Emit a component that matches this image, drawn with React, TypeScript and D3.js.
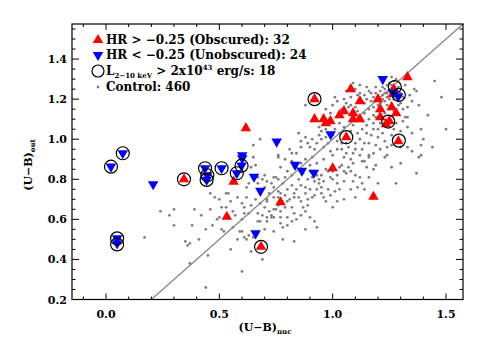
import React from 'react';
import * as d3 from 'd3';

const W = 485;
const H = 346;
const plot = { left: 72, right: 463, top: 24, bottom: 299.5 };

const xMajorTicks = [0, 0.5, 1.0, 1.5];
const yMajorTicks = [0.2, 0.4, 0.6, 0.8, 1.0, 1.2, 1.4];

// HR > -0.25 (obscured)
const obscured: [number, number][] = [
  [0.92, 1.2], [1.08, 1.25], [1.12, 1.19], [1.33, 1.31], [1.27, 1.25], [1.05, 1.14],
  [1.09, 1.13], [0.92, 1.1], [0.96, 1.1], [0.99, 1.09], [0.97, 1.08], [1.09, 1.1],
  [1.12, 1.1], [1.21, 1.15], [1.21, 1.11], [1.26, 1.16], [1.28, 1.13], [1.25, 1.09],
  [1.06, 1.01], [1.29, 0.99], [1.0, 0.855], [0.77, 0.685], [1.18, 0.713], [0.684, 0.463],
  [0.344, 0.8], [0.563, 0.788], [0.533, 0.613], [0.617, 1.055], [1.265, 1.225],
  [1.235, 1.075], [1.2, 1.2], [1.03, 1.12],
];

// HR < -0.25 (unobscured)
const unobscured: [number, number][] = [
  [0.022, 0.863], [0.074, 0.93], [0.208, 0.775], [0.437, 0.855], [0.447, 0.82], [0.444, 0.797],
  [0.51, 0.855], [0.577, 0.83], [0.598, 0.868], [0.601, 0.92], [0.601, 0.905], [0.653, 0.813],
  [0.681, 0.742], [0.753, 0.988], [0.049, 0.505], [0.049, 0.48], [0.66, 0.53], [0.834, 0.872],
  [0.864, 0.843], [0.917, 0.833], [1.221, 1.3], [0.991, 1.025], [1.267, 1.233], [1.289, 1.213],
];

// L(2-10 keV) > 2x10^43 erg/s
const luminous: [number, number][] = [
  [0.92, 1.2], [1.245, 1.088], [1.06, 1.01], [1.292, 0.993], [0.684, 0.463], [0.344, 0.8],
  [1.274, 1.26], [1.292, 1.221], [0.022, 0.863], [0.074, 0.93], [0.437, 0.855], [0.447, 0.82],
  [0.444, 0.797], [0.51, 0.855], [0.577, 0.83], [0.598, 0.868], [0.049, 0.505], [0.049, 0.475],
];

const control: [number, number][] = [
  [0.24, 0.64], [0.30, 0.65], [0.39, 0.65], [0.46, 0.65], [0.42, 0.62], [0.49, 0.60], [0.50, 0.61],
  [0.51, 0.66], [0.53, 0.73], [0.54, 0.73], [0.48, 0.71], [0.46, 0.73], [0.30, 0.57], [0.44, 0.55],
  [0.41, 0.50], [0.35, 0.49], [0.36, 0.47], [0.37, 0.48], [0.17, 0.51], [0.37, 0.38], [0.45, 0.42],
  [0.60, 0.34], [0.44, 0.26], [0.51, 0.55], [0.52, 0.54], [0.56, 0.56], [0.59, 0.54], [0.60, 0.54],
  [0.58, 0.50], [0.61, 0.51], [0.63, 0.52], [0.62, 0.50], [0.65, 0.51], [0.61, 0.63], [0.61, 0.66],
  [0.60, 0.60], [0.60, 0.68], [0.58, 0.71], [0.62, 0.71], [0.63, 0.63], [0.63, 0.78], [0.67, 0.78],
  [0.67, 0.63], [0.68, 0.68], [0.69, 0.62], [0.71, 0.59], [0.71, 0.61], [0.74, 0.61], [0.75, 0.65],
  [0.76, 0.67], [0.73, 0.62], [0.74, 0.54], [0.77, 0.58], [0.68, 0.59], [0.67, 0.59], [0.71, 0.69],
  [0.71, 0.70], [0.74, 0.71], [0.73, 0.78], [0.75, 0.81], [0.76, 0.80], [0.69, 0.80], [0.70, 0.82],
  [0.71, 0.79], [0.66, 0.87], [0.64, 0.86], [0.65, 0.91], [0.67, 0.81],
  [0.65, 0.97], [0.68, 1.00], [0.76, 0.91], [0.62, 0.76],
  [0.76, 0.92], [0.82, 0.93], [0.77, 0.86], [0.74, 0.81], [0.79, 0.81], [0.82, 0.82], [0.86, 0.77],
  [0.88, 0.76], [0.89, 0.80], [0.92, 0.79], [0.94, 0.80], [0.94, 0.78], [0.91, 0.81], [0.95, 0.82],
  [0.98, 0.84], [0.99, 0.81], [1.00, 0.80], [1.02, 0.82], [1.02, 0.78], [1.03, 0.75], [0.98, 0.75],
  [0.95, 0.73], [0.97, 0.69], [1.02, 0.69], [1.00, 0.66], [1.04, 0.87], [1.07, 0.86], [1.06, 0.83],
  [1.08, 0.84], [1.10, 0.82], [1.12, 0.81], [1.13, 0.78], [1.16, 0.81], [1.15, 0.86], [1.13, 0.89],
  [1.09, 0.88], [1.16, 0.91], [1.19, 0.87], [1.23, 0.91], [1.24, 0.92], [1.35, 0.94], [1.39, 0.92],
  [1.37, 0.83], [1.08, 0.75], [1.14, 0.75], [0.83, 0.71], [0.85, 0.71], [0.86, 0.69], [0.89, 0.70],
  [0.89, 0.67], [0.87, 0.66], [0.80, 0.69], [0.79, 0.66], [0.82, 0.66], [0.83, 0.63], [0.80, 0.61],
  [0.82, 0.59], [0.77, 0.61], [0.74, 0.65], [0.77, 0.64], [0.73, 0.61], [0.78, 0.56], [0.80, 0.57],
  [0.83, 0.49], [0.92, 0.59], [0.93, 0.56], [0.74, 0.76], [0.70, 0.76], [0.77, 0.73], [0.76, 0.71],
  [0.79, 0.72], [0.83, 0.73], [0.84, 0.75], [0.91, 0.71], [0.93, 0.75], [0.95, 0.76], [1.05, 0.79],
  [1.09, 0.79], [1.11, 0.76], [1.18, 0.85], [1.20, 0.78],
  [1.45, 1.29], [1.48, 1.21], [1.50, 1.05], [1.38, 1.17], [1.37, 1.24], [1.36, 1.25], [1.32, 1.11],
  [1.33, 1.11], [1.33, 1.06], [1.35, 1.03], [1.39, 1.05], [1.39, 0.97], [1.38, 0.91], [1.33, 0.96],
  [1.30, 0.96], [1.26, 0.97], [1.24, 0.96], [1.19, 0.97], [1.20, 1.01], [1.16, 0.98], [1.18, 1.05],
  [1.15, 1.03], [1.13, 1.09], [1.16, 1.15], [1.18, 1.16], [1.19, 1.19], [1.20, 1.21], [1.22, 1.22],
  [1.22, 1.20], [1.23, 1.23], [1.24, 1.21], [1.25, 1.24], [1.25, 1.20], [1.24, 1.17], [1.17, 1.23],
  [1.14, 1.22], [1.15, 1.20], [1.13, 1.19], [1.11, 1.22], [1.09, 1.28], [1.08, 1.17], [1.07, 1.16],
  [1.01, 1.21], [0.97, 1.15], [1.02, 1.11], [1.03, 1.08], [1.01, 1.05], [0.97, 1.05], [0.94, 1.02],
  [0.91, 1.00], [0.89, 0.98], [0.86, 0.96], [0.84, 0.93], [0.85, 1.03], [0.88, 1.17], [0.94, 1.06],
  [0.95, 1.00], [0.96, 0.96], [0.99, 0.94], [1.04, 0.95], [1.07, 0.96], [1.09, 0.93], [1.12, 1.00],
  [1.13, 0.95], [1.16, 0.92], [1.05, 0.91], [0.92, 0.95], [0.91, 0.91], [1.19, 1.11], [1.30, 1.18],
  [1.22, 1.26], [1.24, 1.27], [1.25, 1.28], [1.26, 1.31], [1.27, 1.29],
  // denser core
  [1.05, 1.20], [1.06, 1.24], [1.10, 1.25], [1.12, 1.27], [1.14, 1.18], [1.16, 1.24], [1.18, 1.21],
  [1.19, 1.26], [1.21, 1.24], [1.21, 1.18], [1.23, 1.19], [1.23, 1.25], [1.24, 1.23], [1.26, 1.22],
  [1.27, 1.20], [1.28, 1.24], [1.29, 1.26], [1.30, 1.23], [1.31, 1.21], [1.32, 1.27], [1.34, 1.22],
  [1.35, 1.19], [1.31, 1.15], [1.33, 1.16], [1.29, 1.17], [1.27, 1.14], [1.25, 1.15], [1.23, 1.13],
  [1.20, 1.14], [1.18, 1.12], [1.16, 1.10], [1.14, 1.13], [1.11, 1.14], [1.10, 1.16], [1.06, 1.18],
  [1.04, 1.15], [1.00, 1.17], [0.99, 1.13], [1.02, 1.19], [1.08, 1.21], [1.12, 1.23], [1.17, 1.19],
  [1.20, 1.17], [1.26, 1.27], [1.28, 1.30], [1.22, 1.29], [1.19, 1.23], [1.15, 1.26],
  [0.86, 0.99], [0.88, 1.01], [0.90, 0.96], [0.93, 0.98], [0.95, 1.04], [0.97, 1.01], [0.98, 0.98],
  [1.00, 1.02], [1.02, 0.99], [1.03, 1.03], [1.05, 1.06], [1.06, 0.98], [1.08, 1.04], [1.09, 1.07],
  [1.10, 0.98], [1.11, 1.03], [1.13, 1.05], [1.14, 0.98], [1.15, 1.07], [1.17, 1.02], [1.18, 1.08],
  [1.20, 1.05], [1.21, 1.08], [1.22, 1.03], [1.23, 0.99], [1.26, 1.02], [1.27, 1.05], [1.28, 1.08],
  [1.30, 1.04], [1.31, 1.09], [1.00, 0.92], [1.02, 0.95], [1.04, 0.98], [1.06, 0.93], [1.08, 0.90],
  [1.10, 0.95], [1.12, 0.92], [1.14, 0.89], [1.18, 0.93], [1.21, 0.95], [0.96, 0.90], [0.93, 0.88],
  [0.90, 0.87], [0.88, 0.90], [0.86, 0.88], [0.84, 0.86], [0.82, 0.89], [0.80, 0.84], [0.81, 0.95],
  [0.79, 0.90],
  [0.78, 0.78], [0.80, 0.75], [0.82, 0.77], [0.85, 0.80], [0.87, 0.83], [0.90, 0.84], [0.93, 0.82],
  [0.96, 0.79], [0.97, 0.85], [1.00, 0.84], [1.03, 0.86], [1.05, 0.84], [0.88, 0.73], [0.90, 0.75],
  [0.92, 0.72], [0.96, 0.71], [0.99, 0.72], [1.01, 0.74], [0.86, 0.62], [0.88, 0.64], [0.90, 0.61],
  [0.84, 0.60], [0.78, 0.68], [0.81, 0.70], [0.76, 0.74], [0.72, 0.73], [0.70, 0.66], [0.72, 0.64],
  [0.66, 0.70], [0.64, 0.67], [0.56, 0.64], [0.55, 0.69], [0.57, 0.62], [0.50, 0.70], [0.53, 0.66],
  [0.38, 0.57], [0.28, 0.62], [0.47, 0.57], [0.55, 0.45], [0.70, 0.55], [0.64, 0.44], [0.78, 0.50],
  [0.88, 0.55], [0.69, 0.40],
  [1.42, 1.12], [1.40, 1.00], [1.44, 0.96], [1.30, 0.88], [1.26, 0.86], [1.10, 0.71], [1.05, 0.70],
  [1.28, 0.78],
];

const font = "'DejaVu Serif', serif";

export default function App() {
  const x = d3.scaleLinear().domain([-0.15, 1.575]).range([plot.left, plot.right]);
  const y = d3.scaleLinear().domain([0.2, 1.575]).range([plot.bottom, plot.top]);

  const xMinor = d3.range(-0.1, 1.56, 0.1).map((v) => +v.toFixed(2));
  const yMinor = d3.range(0.2, 1.575, 0.05).map((v) => +v.toFixed(2));

  const triUp = d3.symbol().type(d3.symbolTriangle).size(48)();
  const triangle = (px: number, py: number, down: boolean) =>
    `translate(${px},${py})${down ? ' rotate(180)' : ''}`;

  const lineEnd = Math.min(x.domain()[1], y.domain()[1]);

  return (
    <svg width={W} height={H} style={{ position: 'absolute', left: 0, top: 0, background: '#fff' }}
      fontFamily={font} fontWeight="bold">
      {/* control sample */}
      <g fill="#7f7f7f">
        {control.map(([a, b], i) => (
          <circle key={i} cx={x(a)} cy={y(b)} r={1.4} />
        ))}
      </g>
      {/* one-to-one line */}
      <line x1={x(0.2)} y1={y(0.2)} x2={x(lineEnd)} y2={y(lineEnd)} stroke="#888" strokeWidth={1.3} />

      <g fill="#ff0000">
        {obscured.map(([a, b], i) => (
          <path key={i} d={triUp!} transform={triangle(x(a), y(b), false)} />
        ))}
      </g>
      <g fill="#0000ff">
        {unobscured.map(([a, b], i) => (
          <path key={i} d={triUp!} transform={triangle(x(a), y(b), true)} />
        ))}
      </g>
      <g fill="none" stroke="#000" strokeWidth={1.2}>
        {luminous.map(([a, b], i) => (
          <circle key={i} cx={x(a)} cy={y(b)} r={6.5} />
        ))}
      </g>

      {/* frame and ticks */}
      <rect x={plot.left} y={plot.top} width={plot.right - plot.left} height={plot.bottom - plot.top}
        fill="none" stroke="#000" strokeWidth={1.2} />
      <g stroke="#000" strokeWidth={1}>
        {xMinor.map((v) => {
          const major = xMajorTicks.some((m) => Math.abs(m - v) < 1e-6);
          const len = major ? 6 : 3;
          return (
            <g key={v}>
              <line x1={x(v)} x2={x(v)} y1={plot.bottom} y2={plot.bottom - len} />
              <line x1={x(v)} x2={x(v)} y1={plot.top} y2={plot.top + len} />
            </g>
          );
        })}
        {yMinor.map((v) => {
          const major = yMajorTicks.some((m) => Math.abs(m - v) < 1e-6);
          const len = major ? 7 : 3.5;
          return (
            <g key={v}>
              <line x1={plot.left} x2={plot.left + len} y1={y(v)} y2={y(v)} />
              <line x1={plot.right} x2={plot.right - len} y1={y(v)} y2={y(v)} />
            </g>
          );
        })}
      </g>

      {/* tick labels */}
      <g fontSize={11} fill="#000">
        {xMajorTicks.map((v) => (
          <text key={v} x={x(v)} y={plot.bottom + 18} textAnchor="middle">{v.toFixed(1)}</text>
        ))}
        {yMajorTicks.map((v) => (
          <text key={v} x={plot.left - 5} y={y(v) + 4} textAnchor="end">{v.toFixed(1)}</text>
        ))}
      </g>

      {/* axis titles */}
      <text x={265} y={331} textAnchor="middle" fontSize={11}>
        (U−B)<tspan fontSize={7} dy={3}>nuc</tspan>
      </text>
      <text transform="translate(32,165) rotate(-90)" textAnchor="middle" fontSize={11}>
        (U−B)<tspan fontSize={7} dy={3}>out</tspan>
      </text>

      {/* legend */}
      <g fontSize={12}>
        <path d={triUp!} transform={triangle(98, 40, false)} fill="#ff0000" />
        <text x={106} y={44}>HR &gt; −0.25 (Obscured): 32</text>
        <path d={triUp!} transform={triangle(98, 55, true)} fill="#0000ff" />
        <text x={106} y={59}>HR &lt; −0.25 (Unobscured): 24</text>
        <circle cx={98} cy={71} r={6} fill="none" stroke="#000" strokeWidth={1.2} />
        <text x={106} y={75}>
          L<tspan fontSize={7} dy={3}>2−10 keV</tspan>
          <tspan dy={-3}> &gt; 2x10</tspan>
          <tspan fontSize={7} dy={-5}>43</tspan>
          <tspan dy={5}> erg/s: 18</tspan>
        </text>
        <circle cx={98} cy={87} r={1.4} fill="#7f7f7f" />
        <text x={106} y={91}>Control: 460</text>
      </g>
    </svg>
  );
}
